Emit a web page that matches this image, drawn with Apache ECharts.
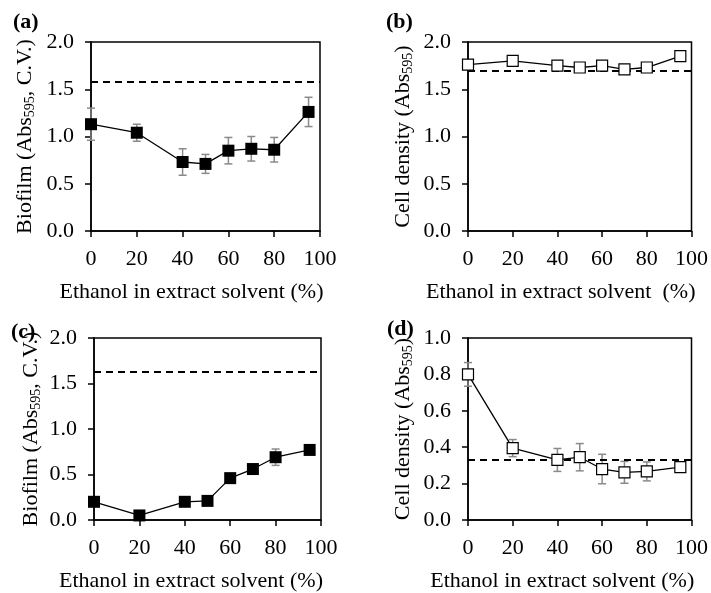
<!DOCTYPE html>
<html>
<head>
<meta charset="utf-8">
<script src="https://cdn.jsdelivr.net/npm/echarts@6/dist/echarts.min.js"></script>
<style>
  html, body { margin: 0; padding: 0; background: #fff; }
  #chart { width: 711px; height: 593px; }
</style>
</head>
<body>
<div id="chart"></div>
<script>
const ethanol = [0, 20, 40, 50, 60, 70, 80, 95]

// (a) biofilm, extract 1
const biofilmA = [1.13, 1.04, 0.73, 0.71, 0.85, 0.87, 0.86, 1.26]
const biofilmAErr = [0.17, 0.09, 0.14, 0.10, 0.14, 0.13, 0.13, 0.155]
const biofilmACtrl = 1.58

// (b) cell density, extract 1
const cellB = [1.76, 1.80, 1.75, 1.73, 1.75, 1.71, 1.73, 1.85]
const cellBErr = [0.02, 0.02, 0.02, 0.02, 0.02, 0.02, 0.02, 0.02]
const cellBCtrl = 1.70

// (c) biofilm, extract 2
const biofilmC = [0.20, 0.05, 0.20, 0.21, 0.46, 0.56, 0.69, 0.77]
const biofilmCErr = [0.02, 0.02, 0.02, 0.02, 0.02, 0.04, 0.09, 0.02]
const biofilmCCtrl = 1.63

// (d) cell density, extract 2
const cellD = [0.80, 0.395, 0.33, 0.345, 0.28, 0.262, 0.267, 0.29]
const cellDErr = [0.065, 0.047, 0.063, 0.075, 0.081, 0.06, 0.052, 0.02]
const cellDCtrl = 0.33

const panelLabels = ['(a)', '(b)', '(c)', '(d)']
const xTitles = [
  'Ethanol in extract solvent (%)',
  'Ethanol in extract solvent  (%)',
  'Ethanol in extract solvent (%)',
  'Ethanol in extract solvent (%)',
]

const FONT = '"Liberation Serif", "Times New Roman", serif'
const chart = echarts.init(document.getElementById('chart'))

const grids = [
  { left: 91, top: 42, width: 229, height: 189 },
  { left: 468, top: 42, width: 227, height: 189 },
  { left: 94, top: 338, width: 227, height: 189 },
  { left: 468, top: 338, width: 227, height: 189 },
]
// titles sit a bit left of the plot centre in the original
const titleShift = [28, 38, 33, 35]
const yNameGap = [53, 52, 50, 52]

const panels = [
  { y: biofilmA, err: biofilmAErr, ctrl: biofilmACtrl, filled: true, max: 2, step: 0.5, kind: 'bio' },
  { y: cellB, err: cellBErr, ctrl: cellBCtrl, filled: false, max: 2, step: 0.5, kind: 'cell' },
  { y: biofilmC, err: biofilmCErr, ctrl: biofilmCCtrl, filled: true, max: 2, step: 0.5, kind: 'bio' },
  { y: cellD, err: cellDErr, ctrl: cellDCtrl, filled: false, max: 1, step: 0.2, kind: 'cell' },
]

const axisLine = { lineStyle: { color: '#000', width: 1.5 } }
const axisTick = { inside: false, length: 6, lineStyle: { color: '#000', width: 1.5 } }

function yName(kind) {
  return kind === 'bio'
    ? '{t|Biofilm (Abs}{s|595}{t|, C.V.)}'
    : '{t|Cell density (Abs}{s|595}{t|)}'
}

const xAxis = grids.map((g, i) => ({
  gridIndex: i,
  type: 'value',
  min: 0,
  max: 100,
  interval: 20,
  axisLine, axisTick,
  splitLine: { show: false },
  axisLabel: { color: '#000', fontFamily: FONT, fontSize: 22, margin: 17 },
  name: xTitles[i],
  nameLocation: 'middle',
  nameGap: 50,
  nameTextStyle: {
    color: '#000', fontFamily: FONT, fontSize: 22,
    padding: [0, titleShift[i], 0, 0],
  },
}))

const yAxis = panels.map((p, i) => ({
  gridIndex: i,
  type: 'value',
  min: 0,
  max: p.max,
  interval: p.step,
  axisLine, axisTick,
  splitLine: { show: false },
  axisLabel: {
    color: '#000', fontFamily: FONT, fontSize: 22, margin: 17,
    formatter: v => v.toFixed(1),
  },
  name: yName(p.kind),
  nameLocation: 'middle',
  nameGap: yNameGap[i],
  nameTextStyle: {
    rich: {
      t: { color: '#000', fontFamily: FONT, fontSize: 22, lineHeight: 26 },
      s: { color: '#000', fontFamily: FONT, fontSize: 14, lineHeight: 26, padding: [10, 0, 0, 0] },
    },
  },
}))

const series = []
panels.forEach((p, i) => {
  series.push({
    type: 'custom',
    xAxisIndex: i,
    yAxisIndex: i,
    z: 1,
    data: ethanol.map((x, k) => [x, p.y[k] - p.err[k], p.y[k] + p.err[k]]),
    renderItem: (params, api) => {
      const lo = api.coord([api.value(0), api.value(1)])
      const hi = api.coord([api.value(0), api.value(2)])
      const w = 4
      const style = { stroke: '#8a8a8a', lineWidth: 1.5 }
      return {
        type: 'group',
        children: [
          { type: 'line', shape: { x1: lo[0], y1: lo[1], x2: hi[0], y2: hi[1] }, style },
          { type: 'line', shape: { x1: lo[0] - w, y1: lo[1], x2: lo[0] + w, y2: lo[1] }, style },
          { type: 'line', shape: { x1: hi[0] - w, y1: hi[1], x2: hi[0] + w, y2: hi[1] }, style },
        ],
      }
    },
  })
  series.push({
    type: 'line',
    xAxisIndex: i,
    yAxisIndex: i,
    z: 3,
    data: ethanol.map((x, k) => [x, p.y[k]]),
    symbol: 'rect',
    symbolSize: p.filled ? 12 : 11,
    showSymbol: true,
    lineStyle: { color: '#000', width: 1.3 },
    itemStyle: p.filled
      ? { color: '#000', borderColor: '#000', borderWidth: 0 }
      : { color: '#fff', borderColor: '#000', borderWidth: 1.2 },
    markLine: {
      silent: true,
      symbol: 'none',
      label: { show: false },
      z: 2,
      lineStyle: { color: '#000', type: [7, 5], width: 1.8 },
      data: [{ yAxis: p.ctrl }],
    },
  })
})

const labelPos = [[13, 11], [386, 11], [11, 321], [387, 318]]
const graphic = panelLabels.map((t, i) => ({
  type: 'text',
  left: labelPos[i][0],
  top: labelPos[i][1],
  style: { text: t, font: 'bold 22px ' + FONT, fill: '#000' },
}))

chart.setOption({
  animation: false,
  grid: grids.map(g => ({ ...g, show: true, borderColor: '#000', borderWidth: 1.5, containLabel: false })),
  xAxis,
  yAxis,
  series,
  graphic,
})
</script>
</body>
</html>
